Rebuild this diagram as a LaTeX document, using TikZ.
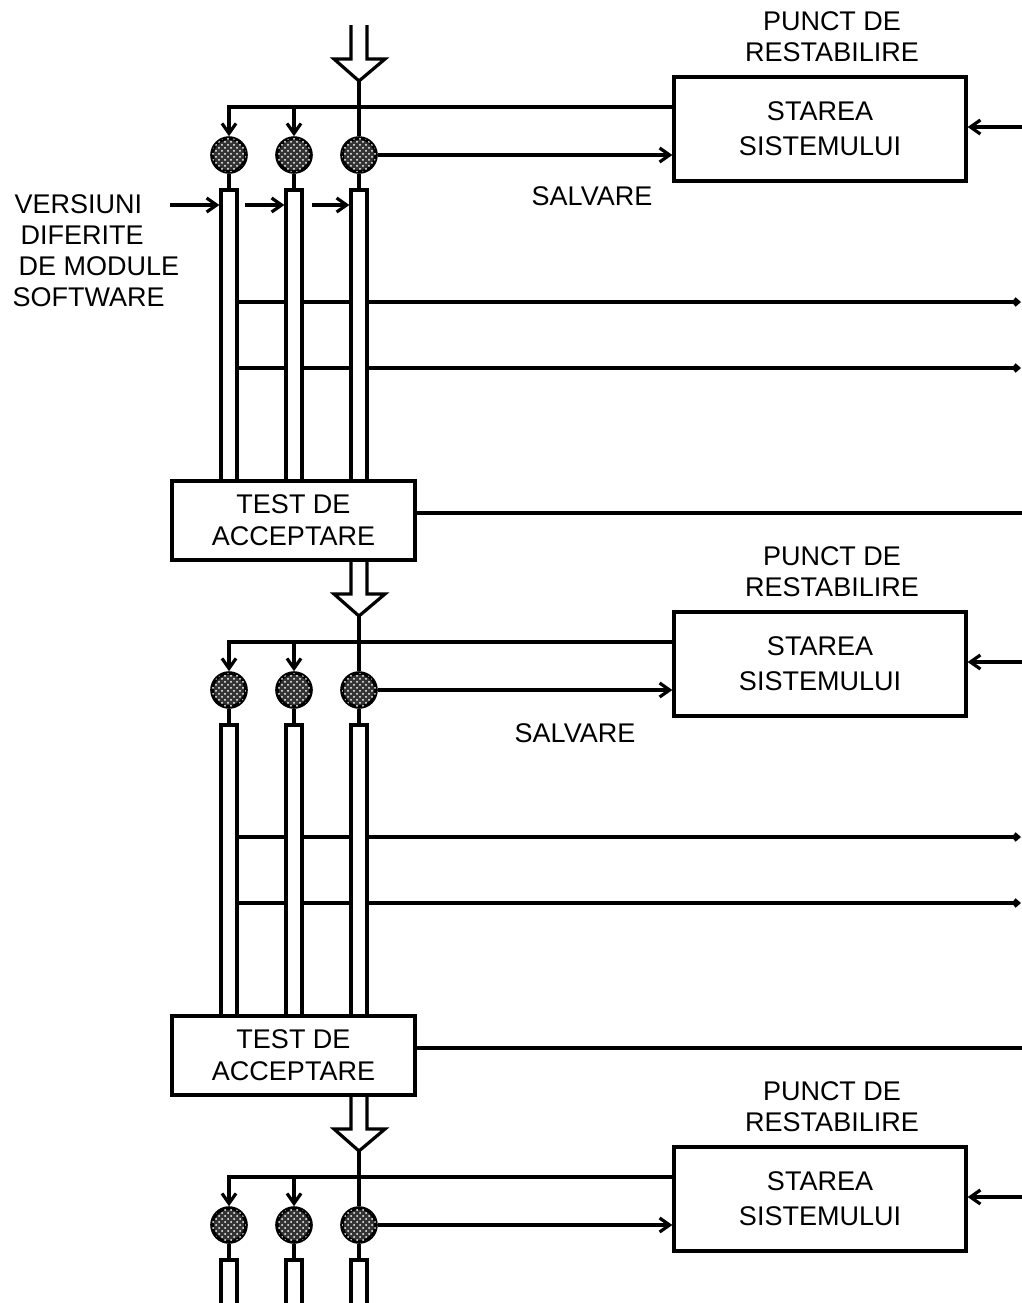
\documentclass[tikz,border=0pt]{standalone}
\usepackage{fontspec}
\setmainfont{Liberation Sans}
\usetikzlibrary{arrows.meta,patterns}
\begin{document}
\begin{tikzpicture}[x=0.5pt,y=-0.5pt,line width=1.6pt,
  lbl/.style={font=\fontsize{13.5}{15.5}\selectfont, align=center, inner sep=0pt},
  stbox/.style={draw, rectangle, inner sep=0pt, minimum width=146pt, minimum height=52pt,
    font=\fontsize{13.5}{17.5}\selectfont, align=center},
  tbox/.style={draw, rectangle, inner sep=0pt, minimum width=121.5pt, minimum height=39.5pt,
    font=\fontsize{13.5}{16}\selectfont, align=center},
  circ/.style={circle, draw, line width=1.8pt, minimum size=17pt, inner sep=0pt, fill=black!80,
    postaction={pattern=crosshatch dots, pattern color=white}},
  colbox/.style={draw, rectangle, inner sep=0pt, minimum width=8pt, minimum height=145.5pt},
  arr/.style={-{Straight Barb[length=5pt,width=7pt]}},
  tinyarr/.style={-{Straight Barb[length=2pt,width=3.5pt]}},
  hollow/.style={line join=miter}
]
\fill[white] (0,0) rectangle (1022,1303);
\path[use as bounding box] (0,0) rectangle (1022,1303);

\foreach \s/\o in {1/0,2/535,3/1070}{
 \begin{scope}[shift={(0,\o)}]
  \node[stbox] (B\s) at (820,129) {STAREA\\SISTEMULUI};
  \node[lbl] (P\s) at (832,37) {PUNCT DE\\RESTABILIRE};
  \node[circ] (a\s) at (229,155) {};
  \node[circ] (b\s) at (294,155) {};
  \node[circ] (c\s) at (359,155) {};
  \coordinate (h\s) at (359,107);
  \coordinate (t\s) at (359,81);
  \coordinate (in\s) at (1022,127);
  \draw[hollow] (351,25) -- (351,59) -- (334,59) -- (t\s) -- (385,59) -- (367,59) -- (367,25);
  \draw (t\s) -- (c\s.north);
  \draw[arr] (B\s.west |- h\s) -- (a\s.north |- h\s) -- (a\s.north);
  \draw[arr] (b\s.north |- h\s) -- (b\s.north);
  \draw[arr] (c\s.east) -- (B\s.west |- c\s.east);
  \draw[arr] (in\s) -- (B\s.east |- in\s);
  \ifnum\s<3
   \node[colbox] (k1\s) at (229,335.5) {};
   \node[colbox] (k2\s) at (294,335.5) {};
   \node[colbox] (k3\s) at (359,335.5) {};
   \draw (a\s.south) -- (k1\s.north);
   \draw (b\s.south) -- (k2\s.north);
   \draw (c\s.south) -- (k3\s.north);
   \coordinate (r1\s) at (1021,302);
   \coordinate (r2\s) at (1021,368);
   \draw (k1\s.east |- r1\s) -- (k2\s.west |- r1\s);
   \draw (k2\s.east |- r1\s) -- (k3\s.west |- r1\s);
   \draw[tinyarr] (k3\s.east |- r1\s) -- (r1\s);
   \draw (k1\s.east |- r2\s) -- (k2\s.west |- r2\s);
   \draw (k2\s.east |- r2\s) -- (k3\s.west |- r2\s);
   \draw[tinyarr] (k3\s.east |- r2\s) -- (r2\s);
   \node[tbox] (T\s) at (293.5,520.5) {TEST DE\\ACCEPTARE};
   \coordinate (o\s) at (1022,513);
   \draw (T\s.east |- o\s) -- (o\s);
  \else
   \coordinate (k1\s) at (229,190);
   \coordinate (k2\s) at (294,190);
   \coordinate (k3\s) at (359,190);
   \draw (a\s.south) -- (k1\s);
   \draw (b\s.south) -- (k2\s);
   \draw (c\s.south) -- (k3\s);
   \draw (221,234) |- (237,190) -- (237,234);
   \draw (286,234) |- (302,190) -- (302,234);
   \draw (351,234) |- (367,190) -- (367,234);
  \fi
 \end{scope}
}

\node[lbl] (S1) at (592,196) {SALVARE};
\node[lbl] (S2) at (575,733) {SALVARE};

\node[lbl, align=left, anchor=west, font=\fontsize{13.5}{15.5}\selectfont] (V) at (11,251)
  {\hspace*{1pt}VERSIUNI\\\hspace*{4pt}DIFERITE\\\hspace*{3pt}DE MODULE\\SOFTWARE};
\coordinate (va) at (170,205);
\coordinate (vb) at (245,205);
\coordinate (vc) at (312,205);
\draw[arr] (va) -- (k11.west |- va);
\draw[arr] (vb) -- (k21.west |- vb);
\draw[arr] (vc) -- (k31.west |- vc);
\end{tikzpicture}
\end{document}
